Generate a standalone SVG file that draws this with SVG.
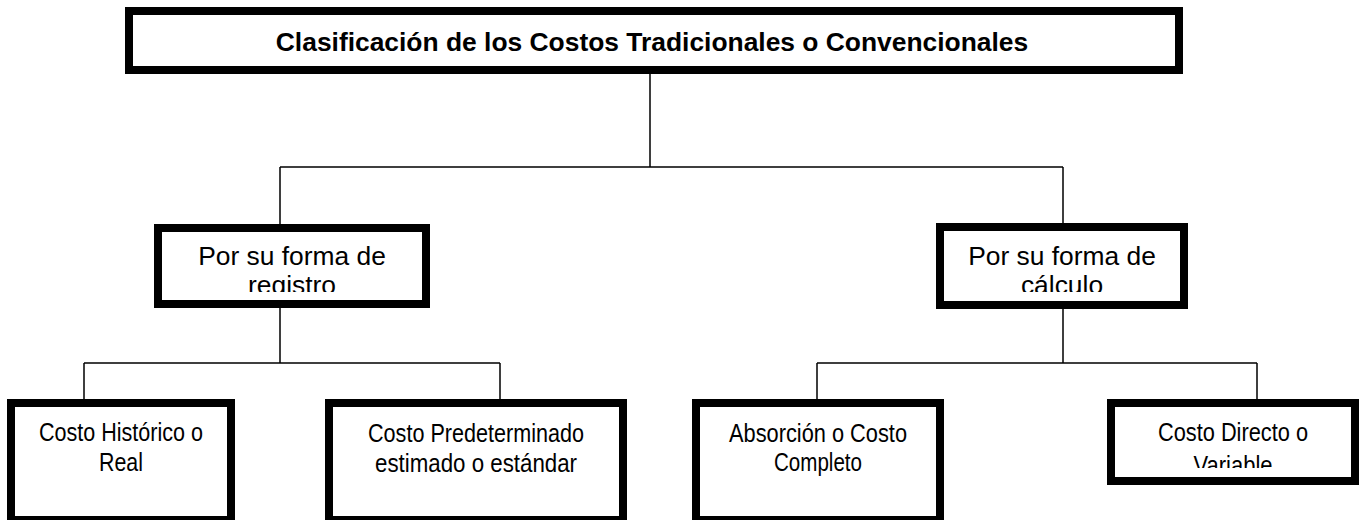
<svg xmlns="http://www.w3.org/2000/svg" width="1364" height="520" viewBox="0 0 1364 520">
<style>
.box{fill:#fff;stroke:#000;stroke-width:8}
.ln{fill:none;stroke:#000;stroke-width:1.5}
.t{font-family:"Liberation Sans",Arial,sans-serif;font-size:26.4px;fill:#000;text-anchor:middle}
.b{font-weight:bold}
.n{font-family:"Liberation Sans",Arial,sans-serif;font-size:26px;fill:#000;text-anchor:middle}
</style>
<defs>
<clipPath id="cL"><rect x="162" y="232" width="260" height="60"/></clipPath>
<clipPath id="cR"><rect x="944" y="231" width="236" height="61"/></clipPath>
<clipPath id="c4"><rect x="1115" y="407" width="236" height="61"/></clipPath>
</defs>
<g id="connectors">
<path class="ln" d="M650 74V167M280 167H1063M280 167V224M1063 167V223"/>
<path class="ln" d="M280 308V363M84 363H500M84 363V399M500 363V399"/>
<path class="ln" d="M1063 309V363M817 363H1257M817 363V399M1257 363V399"/>
</g>
<g id="root">
<rect class="box" x="129" y="11" width="1050" height="59"/>
<text class="t b" x="652" y="51">Clasificación de los Costos Tradicionales o Convencionales</text>
</g>
<g id="registro">
<rect class="box" x="158" y="228" width="268" height="76"/>
<g clip-path="url(#cL)">
<text class="t" x="292" y="265">Por su forma de</text>
<text class="t" x="292" y="294">registro</text>
</g>
</g>
<g id="calculo">
<rect class="box" x="940" y="227" width="244" height="78"/>
<g clip-path="url(#cR)">
<text class="t" x="1062" y="265">Por su forma de</text>
<text class="t" x="1062" y="294">cálculo</text>
</g>
</g>
<g id="historico">
<rect class="box" x="11" y="403" width="220" height="117"/>
<text class="n" x="121" y="441" textLength="164" lengthAdjust="spacingAndGlyphs">Costo Histórico o</text>
<text class="n" x="121" y="471" textLength="44" lengthAdjust="spacingAndGlyphs">Real</text>
</g>
<g id="predeterminado">
<rect class="box" x="329" y="403" width="294" height="117"/>
<text class="n" x="476" y="442" textLength="216" lengthAdjust="spacingAndGlyphs">Costo Predeterminado</text>
<text class="n" x="476" y="472" textLength="202" lengthAdjust="spacingAndGlyphs">estimado o estándar</text>
</g>
<g id="absorcion">
<rect class="box" x="696" y="403" width="244" height="117"/>
<text class="n" x="818" y="442" textLength="178" lengthAdjust="spacingAndGlyphs">Absorción o Costo</text>
<text class="n" x="818" y="471" textLength="88" lengthAdjust="spacingAndGlyphs">Completo</text>
</g>
<g id="directo">
<rect class="box" x="1111" y="403" width="244" height="78"/>
<g clip-path="url(#c4)">
<text class="n" x="1233" y="441" textLength="150" lengthAdjust="spacingAndGlyphs">Costo Directo o</text>
<text class="n" x="1233" y="474" textLength="79" lengthAdjust="spacingAndGlyphs">Variable</text>
</g>
</g>
</svg>
